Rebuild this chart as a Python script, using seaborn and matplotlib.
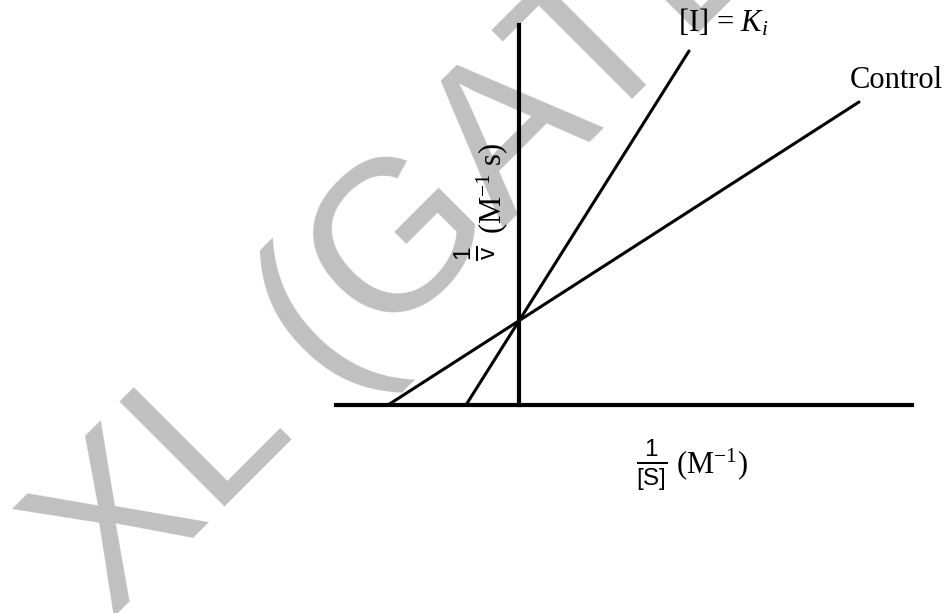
import matplotlib
matplotlib.use("Agg")
import matplotlib.pyplot as plt
import seaborn as sns
import pandas as pd

# Lineweaver-Burk lines (1/[S], 1/v)
control_x = [-1.31, 3.40]
control_y = [0.0, 3.03]
ki_x = [-0.53, 1.70]
ki_y = [0.0, 3.54]

series_names = ["Control", "[I] = Ki"]
x_axis_bounds = (-1.83, 3.93)
y_axis_bounds = (0.0, 3.80)

watermark = "XL (GATE)"

df = pd.concat([
    pd.DataFrame({"x": control_x, "y": control_y, "line": series_names[0]}),
    pd.DataFrame({"x": ki_x, "y": ki_y, "line": series_names[1]}),
])

sns.set_style("white")
plt.rcParams["font.family"] = ["Liberation Serif", "DejaVu Serif"]
plt.rcParams["text.color"] = "black"
plt.rcParams["mathtext.fontset"] = "custom"
plt.rcParams["mathtext.rm"] = "Liberation Serif"
plt.rcParams["mathtext.it"] = "Liberation Serif:italic"
plt.rcParams["mathtext.bf"] = "Liberation Serif:bold"
plt.rcParams["mathtext.sf"] = "Liberation Sans"

fig = plt.figure(figsize=(9.52, 6.13), dpi=100)
ax = fig.add_axes([0, 0, 1, 1])

# watermark, drawn under the lines and labels
ax.text(111.0 / 952, 1 - 620.0 / 613, watermark, transform=fig.transFigure,
        rotation=45, rotation_mode="anchor", ha="left", va="baseline",
        fontsize=155, color="#c0c0c0", family="Liberation Sans", zorder=0.5,
        clip_on=False)

sns.lineplot(data=df, x="x", y="y", hue="line", units="line", estimator=None, sort=False,
             palette=["black", "black"], linewidth=2.2, legend=False, ax=ax, zorder=2)

ax.set_xlim(-5.19, 4.33)
ax.set_ylim(-2.08, 4.05)
ax.set_xticks([])
ax.set_yticks([])
ax.set_xlabel("")
ax.set_ylabel("")

for s in ["top", "right"]:
    ax.spines[s].set_visible(False)
ax.spines["bottom"].set_position(("data", 0))
ax.spines["left"].set_position(("data", 0))
ax.spines["bottom"].set_bounds(*x_axis_bounds)
ax.spines["left"].set_bounds(*y_axis_bounds)
for s in ["bottom", "left"]:
    ax.spines[s].set_linewidth(3.0)
    ax.spines[s].set_color("black")

fs = 22
frac_fs = 25
ax.text(1.59, 3.73, r"[I] = $K_i$", fontsize=fs, ha="left", va="baseline", zorder=3)
ax.text(3.31, 3.17, "Control", fontsize=fs, ha="left", va="baseline", zorder=3)

# x label: 1/[S] (M^-1)
ax.text(1.33, -0.60, r"$\frac{\mathsf{1}}{\mathsf{[S]}}$", fontsize=frac_fs,
        ha="center", va="center", zorder=3)
ax.text(1.57, -0.59, r"(M$^{\mathrm{-1}}$)", fontsize=fs, ha="left", va="center", zorder=3)

# y label: 1/v (M^-1 s)
ax.text(-0.44, 1.52, r"$\frac{\mathsf{1}}{\mathsf{v}}$", fontsize=frac_fs,
        rotation=90, ha="center", va="center", zorder=3)
ax.text(-0.27, 1.71, r"(M$^{\mathrm{-1}}$ s)", fontsize=fs,
        rotation=90, ha="center", va="bottom", zorder=3)

fig.savefig("out.png", dpi=100)
